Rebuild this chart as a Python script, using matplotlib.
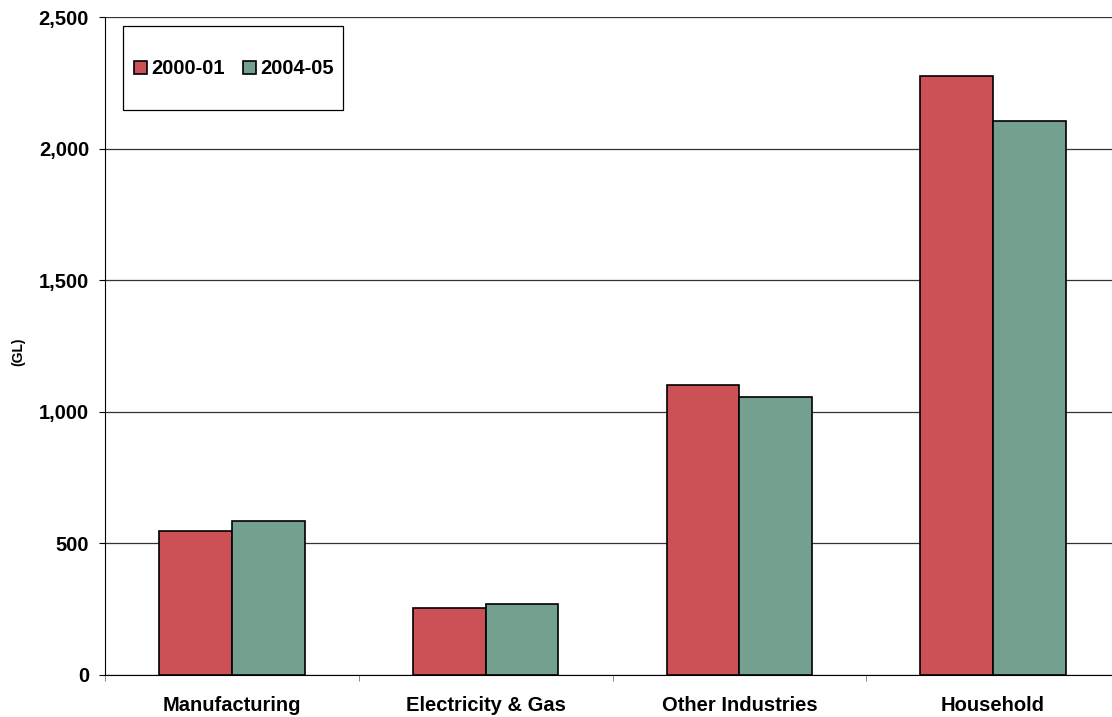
import numpy as np
import matplotlib.pyplot as plt
from matplotlib.patches import Rectangle
from matplotlib.ticker import FuncFormatter

plt.rcParams['font.family'] = ['Liberation Sans', 'DejaVu Sans']
plt.rcParams['font.weight'] = 'bold'

categories = ['Manufacturing', 'Electricity & Gas', 'Other Industries', 'Household']
series_names = ['2000-01', '2004-05']
values_2000 = [547, 254, 1101, 2275]
values_2004 = [587, 271, 1058, 2105]
colors = ['#CB5156', '#74A18F']

W, H = 1112, 717
fig = plt.figure(figsize=(W / 100, H / 100), dpi=100)
ax = fig.add_axes([105 / W, 1 - 675 / H, 1015 / W, 658 / H])

x = np.arange(len(categories))
w = 0.287
ax.bar(x - w / 2, values_2000, w, color=colors[0], edgecolor='black', linewidth=1.2,
       label=series_names[0], zorder=3)
ax.bar(x + w / 2, values_2004, w, color=colors[1], edgecolor='black', linewidth=1.2,
       label=series_names[1], zorder=3)

ax.set_xlim(-0.5, 3.5)
ax.set_ylim(0, 2500)
ax.set_yticks(np.arange(0, 2501, 500))
ax.yaxis.set_major_formatter(FuncFormatter(lambda v, p: f'{int(v):,}'))
ax.yaxis.grid(True, color='#333333', linewidth=0.9, zorder=0)

ax.set_xticks(x)
ax.set_xticklabels(categories, fontsize=14.5, fontweight='bold')
ax.set_xticks(np.arange(-0.5, 3.6, 1), minor=True)
ax.tick_params(axis='x', which='major', length=0, pad=15)
ax.tick_params(axis='x', which='minor', length=4.5, color='#777777', direction='out')
ax.tick_params(axis='y', length=4.5, direction='out', labelsize=14.5, pad=7)
for lbl in ax.get_yticklabels():
    lbl.set_fontweight('bold')

ax.spines['top'].set_visible(False)
ax.spines['right'].set_visible(False)
ax.spines['left'].set_color('black')
ax.spines['bottom'].set_color('black')

fig.text(18 / W, 1 - 352 / H, '(GL)', rotation=90, ha='center', va='center',
         fontsize=10, fontweight='bold')

# legend box drawn as a plain rectangle, entries placed inside it
box = Rectangle((123 / W, 1 - 110 / H), 220 / W, 84 / H, transform=fig.transFigure,
                facecolor='white', edgecolor='black', linewidth=0.9, zorder=4.5,
                clip_on=False)
ax.add_patch(box)
leg = ax.legend(loc='center left', bbox_to_anchor=(134 / W, 1 - 69 / H),
                bbox_transform=fig.transFigure, ncol=2, frameon=False, fontsize=14.5,
                handlelength=0.65, handleheight=0.65, handletextpad=0.2,
                columnspacing=0.9, borderpad=0, borderaxespad=0)
leg.set_zorder(6)

fig.savefig('out.png', dpi=100)
